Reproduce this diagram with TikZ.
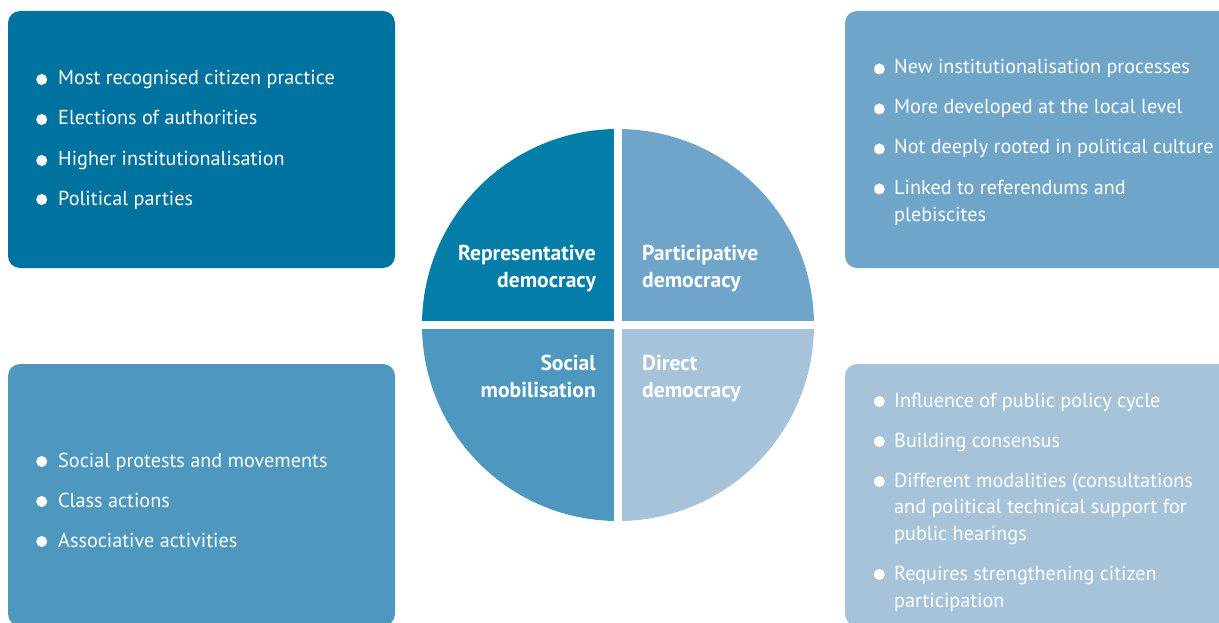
\documentclass[tikz,border=0pt]{standalone}
\usepackage{fontspec}
\setmainfont{PT Sans}
\definecolor{boxA}{RGB}{0,114,160}
\definecolor{qA}{RGB}{4,126,168}
\definecolor{colB}{RGB}{111,165,200}
\definecolor{colC}{RGB}{78,151,191}
\definecolor{colD}{RGB}{167,195,218}
\begin{document}
\begin{tikzpicture}[x=1pt,y=-1pt,
  box/.style={rectangle, rounded corners=12pt, inner sep=0pt, draw=none},
  item/.style={anchor=base west, inner sep=0pt, text=white, font=\fontsize{20.2}{24}\selectfont},
  labr/.style={anchor=base east, inner sep=0pt, text=white, font=\bfseries\fontsize{21.6}{26}\selectfont},
  labl/.style={anchor=base west, inner sep=0pt, text=white, font=\bfseries\fontsize{21.6}{26}\selectfont},
  dot/.style={circle, fill=white, inner sep=0pt, minimum size=11pt}]
\path[use as bounding box] (0,0) rectangle (1219,623);
\clip (0,0) rectangle (1219,623);
% boxes
\node[box, fill=boxA, minimum width=387pt, minimum height=257pt] (bTL) at (201.5,139.5) {};
\node[box, fill=colB, minimum width=387pt, minimum height=257pt] (bTR) at (1038.5,139.5) {};
\node[box, fill=colC, minimum width=387pt, minimum height=262pt] (bBL) at (201.5,495) {};
\node[box, fill=colD, minimum width=387pt, minimum height=262pt] (bBR) at (1038.5,495) {};
% circle
\begin{scope}
\clip (618,325) circle (196);
\fill[qA] (400,100) rectangle (614,321);
\fill[colB] (622,100) rectangle (830,321);
\fill[colC] (400,329) rectangle (614,540);
\fill[colD] (622,329) rectangle (830,540);
\end{scope}
% quadrant labels
\node[labr] (rep1) at (596,260) {Representative};
\node[labr] (rep2) at (596,287) {democracy};
\node[labl] (par1) at (642,260) {Participative};
\node[labl] (par2) at (642,287) {democracy};
\node[labr] (soc1) at (596,370) {Social};
\node[labr] (soc2) at (596,397) {mobilisation};
\node[labl] (dir1) at (642,370) {Direct};
\node[labl] (dir2) at (642,397) {democracy};
% TL items
\node[dot] (d11) at (41.7,79.5) {};
\node[item] (t11) at (58,85) {Most recognised citizen practice};
\node[dot] (d12) at (41.7,119.5) {};
\node[item] (t12) at (58,125) {Elections of authorities};
\node[dot] (d13) at (41.7,160.5) {};
\node[item] (t13) at (58,166) {Higher institutionalisation};
\node[dot] (d14) at (41.7,199.5) {};
\node[item] (t14) at (58,205) {Political parties};
% TR items
\node[dot] (d21) at (879.3,69) {};
\node[item] (t21) at (894,74) {New institutionalisation processes};
\node[dot] (d22) at (879.3,109) {};
\node[item] (t22) at (894,114) {More developed at the local level};
\node[dot] (d23) at (879.3,149) {};
\node[item] (t23) at (894,154) {Not deeply rooted in political culture};
\node[dot] (d24) at (879.3,189) {};
\node[item] (t24) at (894,194) {Linked to referendums and};
\node[item] (t24b) at (894,221.5) {plebiscites};
% BL items
\node[dot] (d31) at (41.7,461.5) {};
\node[item] (t31) at (58,467) {Social protests and movements};
\node[dot] (d32) at (41.7,501.5) {};
\node[item] (t32) at (58,507) {Class actions};
\node[dot] (d33) at (41.7,541.5) {};
\node[item] (t33) at (58,547) {Associative activities};
% BR items
\node[dot] (d41) at (879.3,401.5) {};
\node[item] (t41) at (894,407) {Influence of public policy cycle};
\node[dot] (d42) at (879.3,441.5) {};
\node[item] (t42) at (894,447) {Building consensus};
\node[dot] (d43) at (879.3,481.5) {};
\node[item] (t43) at (894,487) {Different modalities (consultations};
\node[item] (t43b) at (894,513.5) {and political technical support for};
\node[item] (t43c) at (894,540) {public hearings};
\node[dot] (d44) at (879.3,574.5) {};
\node[item] (t44) at (894,580) {Requires strengthening citizen};
\node[item] (t44b) at (894,607) {participation};
\end{tikzpicture}
\end{document}
